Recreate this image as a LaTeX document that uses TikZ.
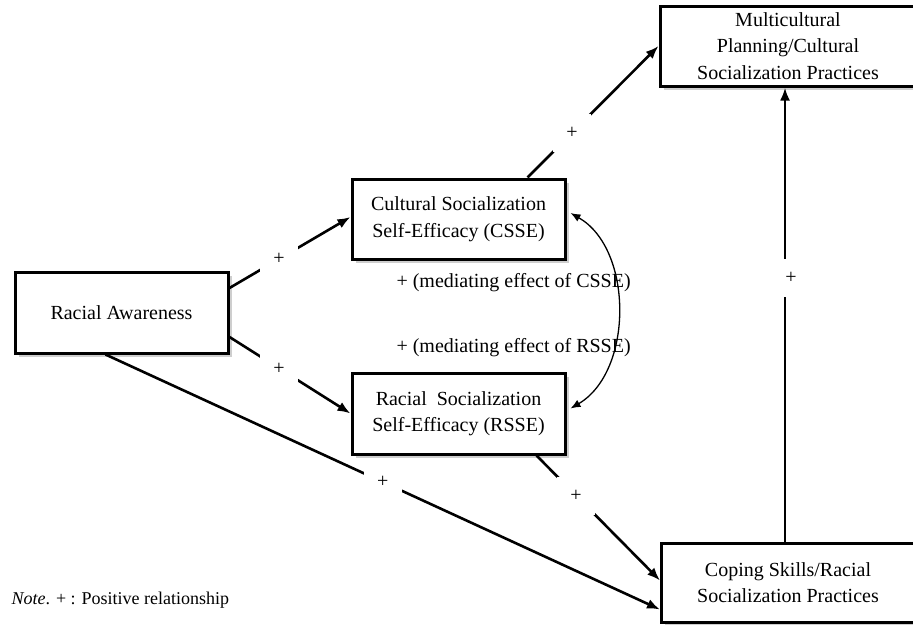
\documentclass[tikz,border=0pt]{standalone}
\usepackage{fontspec}
\setmainfont{Liberation Serif}
\usetikzlibrary{arrows.meta,positioning,shadows}

\begin{document}
\begin{tikzpicture}[x=1pt,y=-1pt,font=\fontsize{20}{26.5}\selectfont,>={Latex[length=13pt,width=10pt]},
  every node/.style={align=center},
  box/.style={draw,line width=3pt,fill=white,inner sep=0pt,
    drop shadow={shadow xshift=3.5pt,shadow yshift=-3.5pt,fill=gray!55,opacity=.7}},
  link/.style={->,line width=2.6pt},
  pluslbl/.style={fill=white,minimum size=38pt,inner sep=0pt}]
  \useasboundingbox (0,0) rectangle (913,624);
  % boxes
  \node[box,minimum width=213pt,minimum height=81pt] (ra) at (121.5,312.5) {Racial Awareness};
  \node[box,minimum width=213pt,minimum height=80pt,above right=52pt and 121pt of ra.east] (csse) {Cultural Socialization\\Self-Efficacy (CSSE)};
  \node[box,minimum width=213pt,minimum height=81pt,below=111pt of csse] (rsse) {Racial~ Socialization\\Self-Efficacy (RSSE)};
  \node[box,minimum width=256pt,minimum height=80pt,above right=90pt and 92pt of csse.north east] (mp) {Multicultural\\Planning/Cultural\\Socialization Practices};
  \node[box,minimum width=253pt,minimum height=79pt,below=454pt of mp] (coping) {Coping Skills/Racial\\Socialization Practices};
  % mediation labels
  \node[anchor=west] (medc) at (393,283) {+ (mediating effect of CSSE)};
  \node[anchor=west] (medr) at (393,348) {+ (mediating effect of RSSE)};
  \node[anchor=west,font=\fontsize{18}{22}\selectfont] (note) at (8,600) {\textit{Note}. + : Positive relationship};
  % paths
  \draw[link] ([yshift=24.5pt]ra.east) -- node[pluslbl,pos=.41]{+} ([yshift=2pt]csse.west);
  \draw[link] ([yshift=-24.5pt]ra.east) -- node[pluslbl,pos=.41]{+} (rsse.west);
  \draw[link] ([xshift=-16pt]ra.south) -- node[pluslbl,pos=.5]{+} ([yshift=-27pt]coping.west);
  \draw[link] ([xshift=-30pt]rsse.south east) -- node[pluslbl,pos=.32]{+} ([yshift=2pt]coping.west);
  \draw[link] ([xshift=-39pt]csse.north east) -- node[pluslbl,pos=.34]{+} (mp.west);
  \draw[link] ([xshift=-3pt]coping.north) -- node[pluslbl,pos=.58,xshift=6pt]{+} ([xshift=-3pt]mp.south);
  \draw[<->,line width=1.3pt,>={Latex[length=10pt,width=8pt]}] ([xshift=4pt,yshift=6pt]csse.east)
    .. controls +(63,36) and +(63,-37) .. ([xshift=4pt,yshift=5pt]rsse.east);
\end{tikzpicture}
\end{document}
